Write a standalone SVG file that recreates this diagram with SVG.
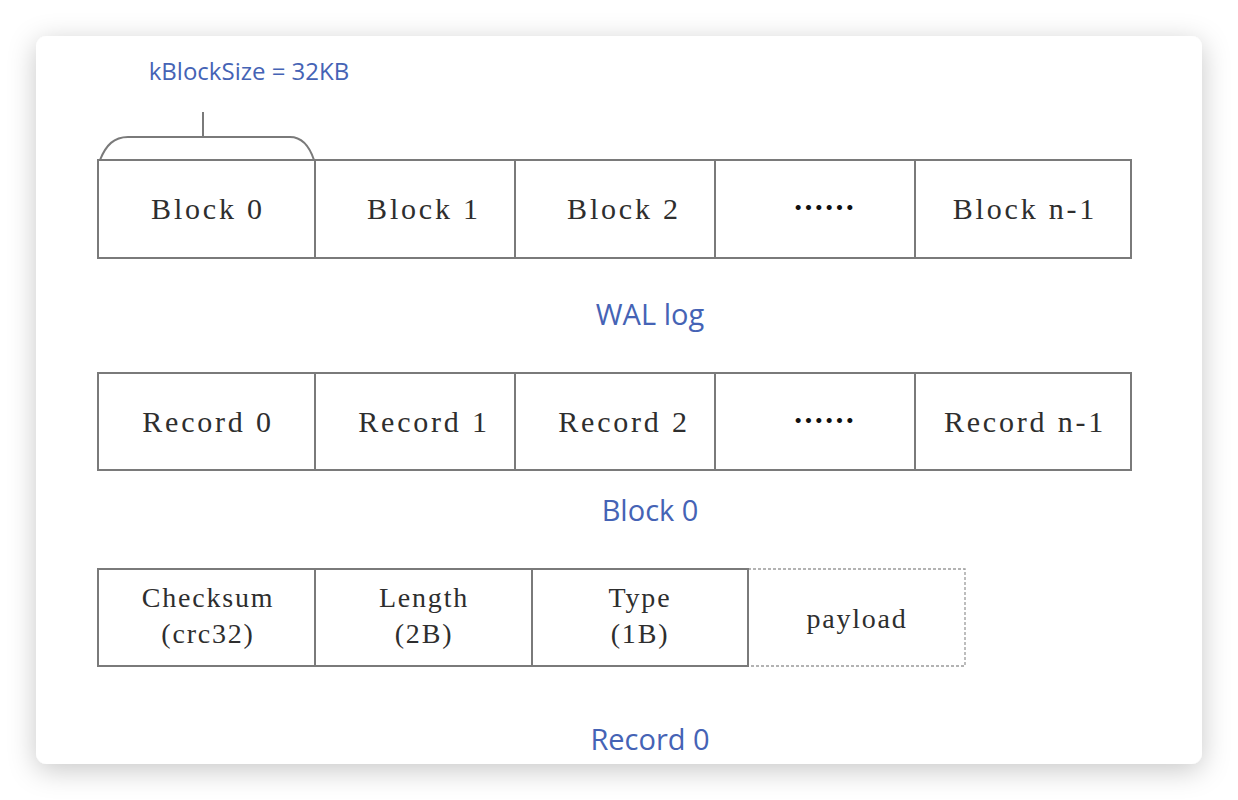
<svg xmlns="http://www.w3.org/2000/svg" width="1238" height="800" viewBox="0 0 1238 800">
<defs>
<filter id="sh" x="-10%" y="-10%" width="120%" height="120%">
<feDropShadow dx="0" dy="6" stdDeviation="14" flood-color="#000" flood-opacity="0.22"/>
</filter>
<style>
.cell{fill:#fff;stroke:#7a7a7a;stroke-width:2}
.dash{fill:#fff;stroke:#9a9a9a;stroke-width:1.3;stroke-dasharray:3 2}
.t{font-family:"Liberation Serif",serif;font-size:30px;fill:#2e2e2e;text-anchor:middle;letter-spacing:2.8px}
.t2{font-family:"Liberation Serif",serif;font-size:28px;fill:#2e2e2e;text-anchor:middle;letter-spacing:1.8px}
.dots{font-family:"Noto Sans CJK SC",sans-serif;font-size:31px;font-weight:bold;fill:#111;text-anchor:middle}
.lbl{font-family:"Open Sans","Liberation Sans",sans-serif;font-size:29px;fill:#4563b5;text-anchor:middle}
.conn{fill:none;stroke:#7a7a7a;stroke-width:2}
</style>
</defs>
<rect x="0" y="0" width="1238" height="800" fill="#ffffff"/>
<rect x="36" y="36" width="1166" height="728" rx="11" fill="#ffffff" filter="url(#sh)"/>

<text class="lbl" x="249" y="80" style="font-size:24px">kBlockSize = 32KB</text>

<g id="connectors">
<path class="conn" d="M100,160 C106,145 114,137 128,137 L290,137 C302,137 309,145 314,160"/>
<line class="conn" x1="203" y1="112" x2="203" y2="137"/>
</g>

<g id="walrow">
<g id="block0"><rect class="cell" x="98" y="160" width="217" height="98"/><text class="t" x="208" y="219">Block 0</text></g>
<g id="block1"><rect class="cell" x="315" y="160" width="200" height="98"/><text class="t" x="424" y="219">Block 1</text></g>
<g id="block2"><rect class="cell" x="515" y="160" width="200" height="98"/><text class="t" x="624" y="219">Block 2</text></g>
<g id="blockdots"><rect class="cell" x="715" y="160" width="200" height="98"/><text class="dots" x="824" y="219">……</text></g>
<g id="blockn"><rect class="cell" x="915" y="160" width="216" height="98"/><text class="t" x="1025" y="219">Block n-1</text></g>
</g>
<text class="lbl" x="650" y="325">WAL log</text>

<g id="blockrow">
<g id="record0"><rect class="cell" x="98" y="373" width="217" height="97"/><text class="t" x="208" y="432">Record 0</text></g>
<g id="record1"><rect class="cell" x="315" y="373" width="200" height="97"/><text class="t" x="424" y="432">Record 1</text></g>
<g id="record2"><rect class="cell" x="515" y="373" width="200" height="97"/><text class="t" x="624" y="432">Record 2</text></g>
<g id="recorddots"><rect class="cell" x="715" y="373" width="200" height="97"/><text class="dots" x="824" y="432">……</text></g>
<g id="recordn"><rect class="cell" x="915" y="373" width="216" height="97"/><text class="t" x="1025" y="432">Record n-1</text></g>
</g>
<text class="lbl" x="650" y="521">Block 0</text>

<g id="recordrow">
<g id="payload"><rect class="dash" x="748" y="569" width="217" height="97"/><text class="t2" x="857" y="628">payload</text></g>
<g id="checksum"><rect class="cell" x="98" y="569" width="217" height="97"/><text class="t2" x="208" y="607">Checksum</text><text class="t2" x="208" y="643">(crc32)</text></g>
<g id="length"><rect class="cell" x="315" y="569" width="217" height="97"/><text class="t2" x="424" y="607">Length</text><text class="t2" x="424" y="643">(2B)</text></g>
<g id="type"><rect class="cell" x="532" y="569" width="216" height="97"/><text class="t2" x="640" y="607">Type</text><text class="t2" x="640" y="643">(1B)</text></g>
</g>
<text class="lbl" x="650" y="750">Record 0</text>
</svg>
